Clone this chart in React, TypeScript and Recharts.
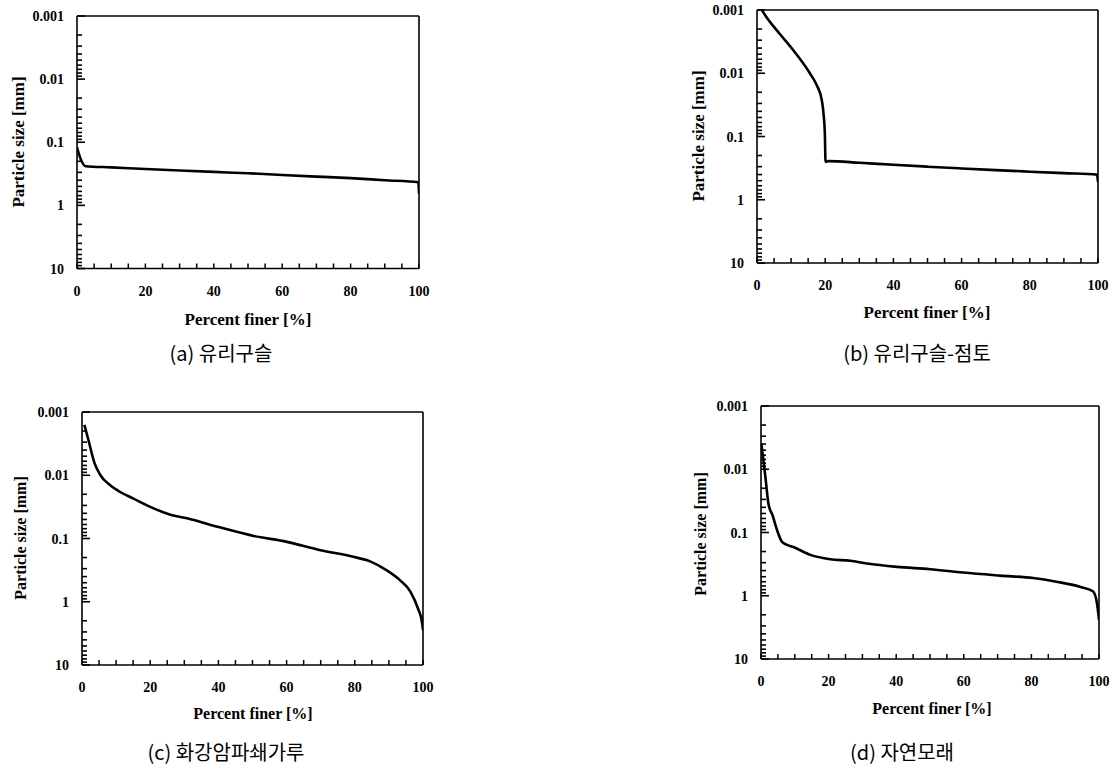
import React from 'react';
import { LineChart, Line, XAxis, YAxis, ReferenceLine } from 'recharts';

// Panel (a) 유리구슬
const percentA = [0, 1, 2.5, 10, 20, 30, 40, 50, 60, 70, 80, 90, 99.8, 100];
const sizeA = [0.12, 0.18, 0.24, 0.25, 0.265, 0.28, 0.295, 0.31, 0.33, 0.35, 0.37, 0.4, 0.43, 0.65];

// Panel (b) 유리구슬-점토
const percentB = [1.4, 3, 4.8, 6.7, 10.6, 15.5, 17.5, 19, 19.6, 19.9, 20.1, 21, 30, 40, 50, 60, 70, 80, 90, 99.7, 100];
const sizeB = [0.001, 0.00135, 0.0018, 0.0024, 0.0043, 0.01, 0.0154, 0.0265, 0.049, 0.09, 0.25, 0.245, 0.26, 0.28, 0.3, 0.32, 0.34, 0.36, 0.38, 0.4, 0.52];

// Panel (c) 화강암파쇄가루
const percentC = [0.7, 1.9, 3.7, 5.4, 8.3, 11.2, 15.1, 20, 25.9, 30.8, 40.1, 50.3, 60.1, 69.9, 79.6, 84.5, 89.4, 93.3, 96.3, 98.7, 99.6, 100];
const sizeC = [0.0016, 0.0028, 0.0065, 0.01, 0.0144, 0.0184, 0.0234, 0.0316, 0.042, 0.048, 0.066, 0.091, 0.113, 0.153, 0.195, 0.23, 0.32, 0.46, 0.69, 1.35, 1.95, 2.8];

// Panel (d) 자연모래
const percentD = [0.1, 0.6, 1.3, 2.2, 3.5, 4.7, 6.2, 7.5, 9.6, 14.6, 20.5, 26.4, 31.3, 40.2, 50, 59.8, 70.7, 80.5, 87.4, 94.3, 98.2, 99.4, 100];
const sizeD = [0.0039, 0.0064, 0.0132, 0.035, 0.055, 0.09, 0.14, 0.155, 0.17, 0.226, 0.265, 0.28, 0.31, 0.35, 0.38, 0.43, 0.48, 0.525, 0.6, 0.72, 0.85, 1.31, 2.4];

const xTicks = [0, 5, 10, 15, 20, 25, 30, 35, 40, 45, 50, 55, 60, 65, 70, 75, 80, 85, 90, 95, 100];
const yTicks = [
  0.001, 0.002, 0.003, 0.004, 0.005, 0.006, 0.007, 0.008, 0.009,
  0.01, 0.02, 0.03, 0.04, 0.05, 0.06, 0.07, 0.08, 0.09,
  0.1, 0.2, 0.3, 0.4, 0.5, 0.6, 0.7, 0.8, 0.9,
  1, 2, 3, 4, 5, 6, 7, 8, 9,
  10,
];

const xTitle = 'Percent finer [%]';
const yTitle = 'Particle size [mm]';
const captions = ['(a) 유리구슬', '(b) 유리구슬-점토', '(c) 화강암파쇄가루', '(d) 자연모래'];

const SERIF = '"Liberation Serif", "Times New Roman", serif';
const SANS = '"Noto Sans CJK KR", "Noto Sans", sans-serif';

function XTick(props: any) {
  const { x, y, payload } = props;
  const v = payload.value;
  const labeled = v % 20 === 0;
  return (
    <g>
      <path d={`M${x},${y}V${y - 5}`} stroke="#000" strokeWidth={1.5} fill="none" />
      {labeled && (
        <text x={x} y={y + 27} textAnchor="middle" fontFamily={SERIF} fontWeight="bold" fontSize={14} fill="#000">
          {v}
        </text>
      )}
    </g>
  );
}

function YTick(props: any) {
  const { x, y, payload } = props;
  const v = payload.value;
  const lg = Math.log10(v);
  const major = Math.abs(lg - Math.round(lg)) < 1e-6;
  return (
    <g>
      <path d={`M${x},${y}H${x + (major ? 8 : 5)}`} stroke="#000" strokeWidth={1.6} fill="none" />
      {major && (
        <text x={x - 13} y={y + 5} textAnchor="end" fontFamily={SERIF} fontWeight="bold" fontSize={14} fill="#000">
          {String(v)}
        </text>
      )}
    </g>
  );
}

type Box = { left: number; top: number; right: number; bottom: number };

function Panel({
  percent, size, box, xTitleAt, yTitleAt, captionAt, caption, titleSize,
}: {
  percent: number[]; size: number[]; box: Box;
  xTitleAt: [number, number]; yTitleAt: [number, number]; captionAt: [number, number];
  caption: string; titleSize: number;
}) {
  const data = percent.map((p, i) => ({ x: p, y: size[i] }));
  const padL = 70, padT = 10, padR = 20, padB = 40;
  const yW = 60, xH = 30;
  const w = box.right - box.left + padL + padR;
  const h = box.bottom - box.top + padT + padB;
  return (
    <>
      <div style={{ position: 'absolute', left: box.left - padL, top: box.top - padT }}>
        <LineChart width={w} height={h} data={data} margin={{ left: padL - yW, top: padT, right: padR, bottom: padB - xH }}>
          <XAxis
            dataKey="x" type="number" domain={[0, 100]} ticks={xTicks} interval={0}
            tickSize={0} tickMargin={0} tick={XTick} tickLine={false} height={xH}
            axisLine={{ stroke: '#000', strokeWidth: 1.6 }} allowDataOverflow
          />
          <YAxis
            type="number" scale="log" domain={[0.001, 10]} reversed ticks={yTicks} interval={0}
            tickSize={0} tickMargin={0} tick={YTick} tickLine={false} width={yW}
            axisLine={{ stroke: '#000', strokeWidth: 1.6 }} allowDataOverflow
          />
          <ReferenceLine y={0.001} stroke="#000" strokeWidth={1.6} />
          <ReferenceLine x={100} stroke="#000" strokeWidth={1.6} />
          <Line type="monotone" dataKey="y" stroke="#000" strokeWidth={2.6} dot={false} isAnimationActive={false} />
        </LineChart>
      </div>
      <div style={{
        position: 'absolute', left: xTitleAt[0], top: xTitleAt[1], transform: 'translate(-50%, -50%)',
        whiteSpace: 'nowrap', fontFamily: SERIF, fontWeight: 'bold', fontSize: titleSize, lineHeight: 1,
      }}>{xTitle}</div>
      <div style={{
        position: 'absolute', left: yTitleAt[0], top: yTitleAt[1], transform: 'translate(-50%, -50%) rotate(-90deg)',
        whiteSpace: 'nowrap', fontFamily: SERIF, fontWeight: 'bold', fontSize: titleSize, lineHeight: 1,
      }}>{yTitle}</div>
      <div style={{
        position: 'absolute', left: captionAt[0], top: captionAt[1], transform: 'translate(-50%, -50%)',
        whiteSpace: 'nowrap', fontFamily: SANS, fontSize: 20, lineHeight: 1,
      }}>{caption}</div>
    </>
  );
}

export default function App() {
  return (
    <div style={{ position: 'absolute', left: 0, top: 0, width: 1113, height: 769, background: '#fff', overflow: 'hidden' }}>
      <Panel percent={percentA} size={sizeA} box={{ left: 77, top: 15.5, right: 419, bottom: 268 }}
        xTitleAt={[248, 319]} yTitleAt={[18, 142]} captionAt={[221, 353]} caption={captions[0]} titleSize={17} />
      <Panel percent={percentB} size={sizeB} box={{ left: 757, top: 10, right: 1098, bottom: 263 }}
        xTitleAt={[927, 312]} yTitleAt={[698, 136]} captionAt={[917, 353]} caption={captions[1]} titleSize={17} />
      <Panel percent={percentC} size={sizeC} box={{ left: 82, top: 412, right: 423, bottom: 665 }}
        xTitleAt={[253, 714]} yTitleAt={[21, 538]} captionAt={[226, 752]} caption={captions[2]} titleSize={16} />
      <Panel percent={percentD} size={sizeD} box={{ left: 761, top: 406, right: 1099, bottom: 659 }}
        xTitleAt={[932, 709]} yTitleAt={[701, 534]} captionAt={[902, 752]} caption={captions[3]} titleSize={16} />
    </div>
  );
}
